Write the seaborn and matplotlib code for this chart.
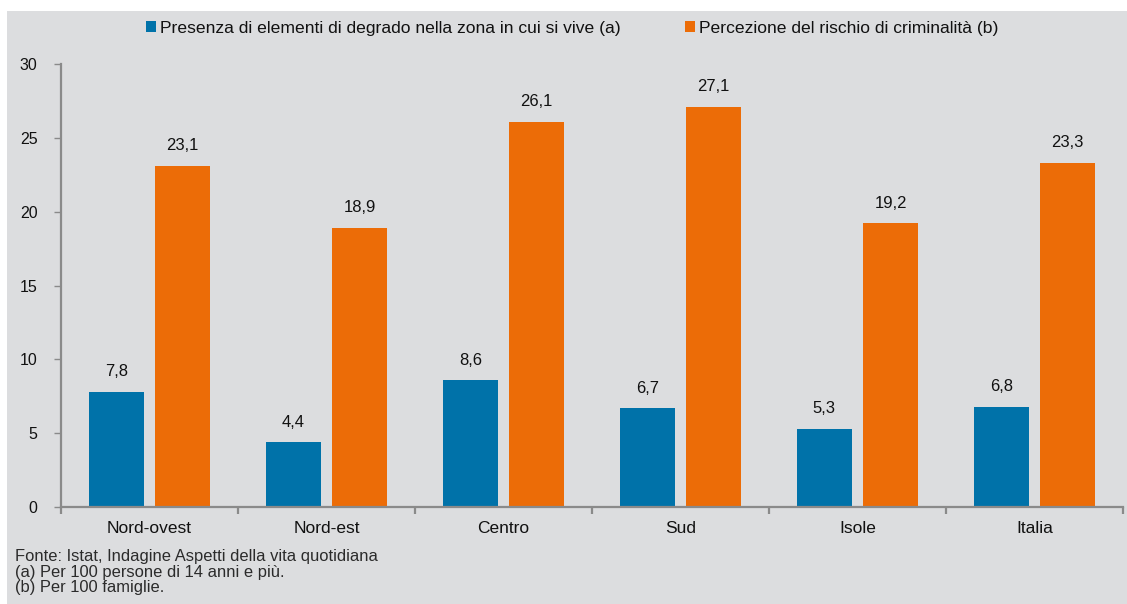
import matplotlib
matplotlib.use("Agg")
import matplotlib.pyplot as plt
import seaborn as sns
import pandas as pd
from matplotlib.patches import Rectangle
from matplotlib.ticker import FixedLocator

categories = ["Nord-ovest", "Nord-est", "Centro", "Sud", "Isole", "Italia"]
series_a_name = "Presenza di elementi di degrado nella zona in cui si vive (a)"
series_b_name = "Percezione del rischio di criminalità (b)"
series_a = [7.8, 4.4, 8.6, 6.7, 5.3, 6.8]
series_b = [23.1, 18.9, 26.1, 27.1, 19.2, 23.3]
yticks = [0, 5, 10, 15, 20, 25, 30]
notes = ["Fonte: Istat, Indagine Aspetti della vita quotidiana",
         "(a) Per 100 persone di 14 anni e più.",
         "(b) Per 100 famiglie."]

BG = "#dcdddf"
BLUE = "#0072a9"
ORANGE = "#ec6c07"
TXT = "#111111"

sns.set_style("white")
plt.rcParams["font.family"] = ["Liberation Sans", "DejaVu Sans"]

df = pd.DataFrame({
    "cat": categories * 2,
    "val": series_a + series_b,
    "serie": [series_a_name] * len(categories) + [series_b_name] * len(categories),
})

fig = plt.figure(figsize=(11.27, 6.04), dpi=100)
fig.patch.set_facecolor("white")
fig.patches.append(Rectangle((7 / 1127, 0), 1 - 7 / 1127, 1 - 11 / 604,
                             transform=fig.transFigure, facecolor=BG,
                             edgecolor="none", zorder=-10))

ax = fig.add_axes([61 / 1127, 1 - 507 / 604, (1123 - 61) / 1127, (507 - 64) / 604])
ax.patch.set_alpha(0)

sns.barplot(data=df, x="cat", y="val", hue="serie", order=categories,
            hue_order=[series_a_name, series_b_name],
            palette=[BLUE, ORANGE], width=0.75, gap=0.17, saturation=1,
            edgecolor="none", linewidth=0, ax=ax, legend=True)

for cont in ax.containers:
    labels = [f"{v:.1f}".replace(".", ",") for v in cont.datavalues]
    ax.bar_label(cont, labels=labels, padding=9, fontsize=12, color=TXT)

ax.set_ylim(0, 30)
ax.set_xlim(-0.5, len(categories) - 0.5)
ax.set_yticks(yticks)
ax.set_xlabel("")
ax.set_ylabel("")
for s in ["top", "right"]:
    ax.spines[s].set_visible(False)
for s in ["left", "bottom"]:
    ax.spines[s].set_color("#8a8a8a")
    ax.spines[s].set_linewidth(1.6)

ax.tick_params(axis="y", length=5, width=1, color="#8a8a8a", labelsize=11.5,
               labelcolor=TXT, pad=12, left=True)
ax.tick_params(axis="x", which="major", length=0, labelsize=12.5,
               labelcolor=TXT, pad=10)
ax.xaxis.set_minor_locator(FixedLocator([i - 0.5 for i in range(len(categories) + 1)]))
ax.tick_params(axis="x", which="minor", length=5, width=1.6, color="#8a8a8a",
               bottom=True)

handles, labs = ax.get_legend_handles_labels()
if ax.legend_:
    ax.legend_.remove()
fig.legend(handles, labs, loc="center", bbox_to_anchor=(572 / 1127, 1 - 28 / 604),
           ncol=2, frameon=False, fontsize=12.6, handlelength=0.6, handleheight=0.6,
           handletextpad=0.2, columnspacing=3.65, labelcolor=TXT)

# footnotes, sized to the reference line width
baselines = [561, 576.5, 592]
note_objs = []
for i, line in enumerate(notes):
    t = fig.text(15 / 1127, 1 - baselines[i] / 604, line, fontsize=12,
                 color="#2b2b2b", va="baseline", ha="left")
    note_objs.append(t)
renderer = fig.canvas.get_renderer()
w = note_objs[0].get_window_extent(renderer).width
if w > 0:
    fs = max(10, min(12 * 361 / w, 12.5))
    for t in note_objs:
        t.set_fontsize(fs)

fig.savefig("out.png", dpi=100, facecolor=fig.get_facecolor())
